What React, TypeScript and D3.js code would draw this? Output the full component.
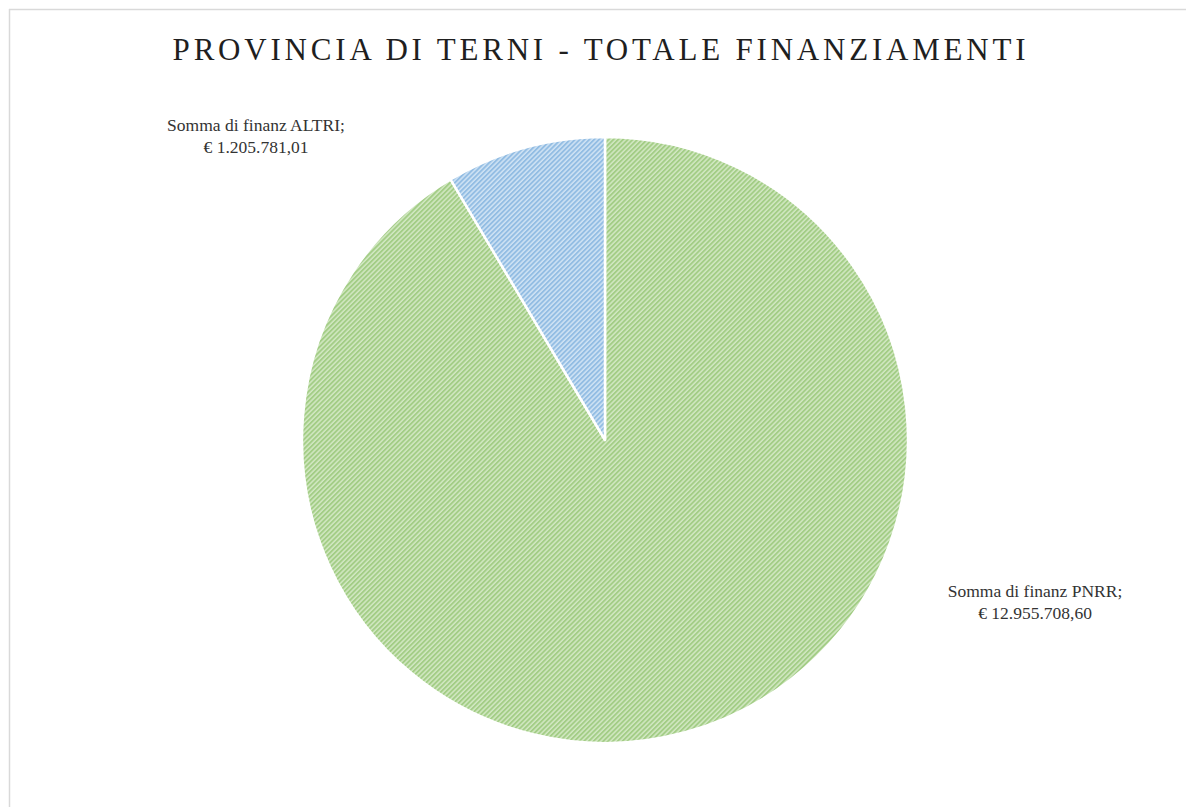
import React from 'react';
import * as d3 from 'd3';

// values
const categories = ['Somma di finanz PNRR', 'Somma di finanz ALTRI'];
const values = [12955708.6, 1205781.01];
const valueLabels = ['€ 12.955.708,60', '€ 1.205.781,01'];
const title = 'PROVINCIA DI TERNI - TOTALE FINANZIAMENTI';

const width = 1186;
const height = 807;
const cx = 605;
const cy = 440;
const radius = 303;

const colors = [
  { dark: '#a3cd86', light: '#d2e8c3' },
  { dark: '#93bde3', light: '#d0e3f4' },
];

// label anchor points (page coords, as Excel placed them)
const labelPos = [
  { x: 1035, y: 597 },
  { x: 256, y: 131 },
];

const App = () => {
  const pie = d3.pie<number>().sort(null).value(d => d);
  const arcs = pie(values);
  const arc = d3.arc<d3.PieArcDatum<number>>().innerRadius(0).outerRadius(radius);

  return (
    <svg
      width={width}
      height={height}
      style={{ position: 'absolute', left: 0, top: 0, background: '#fff' }}
    >
      <defs>
        {colors.map((c, i) => (
          <pattern
            key={i}
            id={`stripe${i}`}
            patternUnits="userSpaceOnUse"
            width={3.4}
            height={3.4}
            patternTransform="rotate(45)"
          >
            <rect width={3.4} height={3.4} fill={c.light} />
            <rect width={1.9} height={3.4} fill={c.dark} />
          </pattern>
        ))}
      </defs>
      <line x1={9.5} y1={9} x2={9.5} y2={height} stroke="#d9d9d9" strokeWidth={1.5} />
      <line x1={9} y1={9.5} x2={width} y2={9.5} stroke="#d9d9d9" strokeWidth={1.5} />
      <text
        x={601}
        y={60}
        textAnchor="middle"
        fontFamily="Liberation Serif, serif"
        fontSize={31}
        letterSpacing={3.8}
        fill="#1f1f1f"
      >
        {title}
      </text>
      <g transform={`translate(${cx},${cy})`}>
        {arcs.map((a, i) => (
          <path
            key={categories[i]}
            d={arc(a) || ''}
            fill={`url(#stripe${i})`}
            stroke="#fff"
            strokeWidth={2.5}
            strokeLinejoin="round"
          />
        ))}
      </g>
      {categories.map((c, i) => (
        <text
          key={c}
          x={labelPos[i].x}
          y={labelPos[i].y}
          textAnchor="middle"
          fontFamily="Liberation Serif, serif"
          fontSize={17.5}
          fill="#333333"
        >
          <tspan x={labelPos[i].x}>{c};</tspan>
          <tspan x={labelPos[i].x} dy={22}>{valueLabels[i]}</tspan>
        </text>
      ))}
    </svg>
  );
};

export default App;
